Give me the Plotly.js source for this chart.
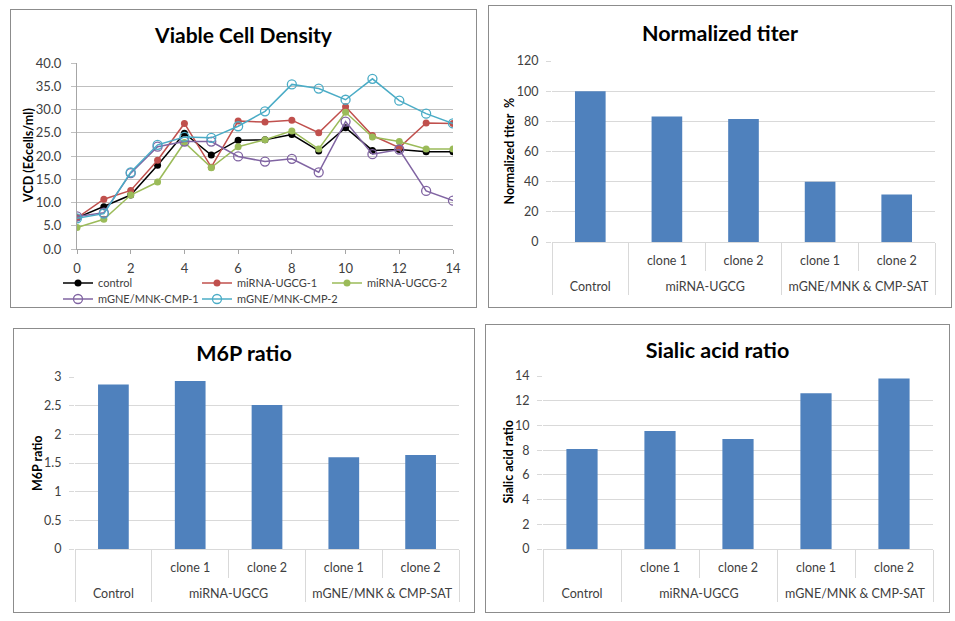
<!DOCTYPE html>
<html><head><meta charset="utf-8">
<script src="https://cdn.plot.ly/plotly-3.0.1.min.js"></script>
<style>
body{margin:0;background:#fff;width:955px;height:621px;position:relative;overflow:hidden;}
.panel{position:absolute;border:1px solid #8c8c8c;box-sizing:border-box;background:#fff;}
.panel > div{position:absolute;left:0;top:0;}
</style></head><body>
<div id="b1" class="panel"><div id="p1"></div></div>
<div id="b2" class="panel"><div id="p2"></div></div>
<div id="b3" class="panel"><div id="p3"></div></div>
<div id="b4" class="panel"><div id="p4"></div></div>
<script>
// ---------- data ----------
const days = [0,1,2,3,4,5,6,7,8,9,10,11,12,13,14];
const control    = [6.7, 9.1, 11.6, 18.0, 24.9, 20.2, 23.4, 23.5, 24.6, 21.1, 26.1, 21.2, 21.4, 20.9, 20.9];
const ugcg1      = [6.7, 10.7, 12.6, 19.1, 27.0, 17.6, 27.5, 27.3, 27.7, 25.0, 30.6, 24.4, 21.8, 27.1, 27.0];
const ugcg2      = [4.6, 6.4, 11.6, 14.4, 22.9, 17.5, 22.0, 23.5, 25.4, 21.5, 29.4, 24.1, 23.1, 21.5, 21.5];
const cmp1       = [7.0, 7.8, 16.3, 22.0, 23.1, 23.1, 19.9, 18.8, 19.4, 16.5, 27.4, 20.4, 21.4, 12.5, 10.4];
const cmp2       = [6.6, 7.6, 16.5, 22.4, 24.1, 23.9, 26.4, 29.6, 35.4, 34.5, 32.1, 36.6, 31.9, 29.1, 27.0];
const seriesNames = ["control","miRNA-UGCG-1","miRNA-UGCG-2","mGNE/MNK-CMP-1","mGNE/MNK-CMP-2"];

const groups = ["Control","miRNA-UGCG","miRNA-UGCG","mGNE/MNK & CMP-SAT","mGNE/MNK & CMP-SAT"];
const clones = ["","clone 1","clone 2","clone 1","clone 2"];
const titer  = [100, 83.2, 81.5, 40.0, 31.5];
const m6p    = [2.87, 2.93, 2.51, 1.60, 1.64];
const sialic = [8.1, 9.55, 8.9, 12.6, 13.8];

// ---------- styling ----------
const FONT = "Lato, 'Open Sans', sans-serif";
const TXT = "#404040";
const BAR = "#4F81BD";
const GRID = "#d9d9d9";
const NB = "\u00a0";

function setup(boxId, box, plot){
  const [L,T,R,B] = box;
  const el = document.getElementById(boxId);
  el.style.left = L+"px"; el.style.top = T+"px";
  el.style.width = (R-L)+"px"; el.style.height = (B-T)+"px";
  const W = R-L-2, H = B-T-2;
  const [x0,x1,y0,y1] = plot;
  return {W:W, H:H, l:x0-L-1, r:(R-1)-x1, t:y0-T-1, b:(B-1)-y1,
          px:(x)=> (x - x0)/(x1-x0), py:(y)=> 1-(y - y0)/(y1-y0),
          cy:(y)=> 1-(y-T-1)/H};
}

function ytitle(g, text, pageX){
  return {text:text, xref:'paper', yref:'paper', x:g.px(pageX), y:0.5, textangle:-90,
          showarrow:false, xanchor:'center', yanchor:'middle',
          font:{family:FONT, size:12.5, color:'#000', weight:'bold'}};
}

// ---------- Panel 1: line chart ----------
(function(){
  const g = setup('b1',[10,9,477,308],[77,453,63,249]);
  const vals = [control, ugcg1, ugcg2, cmp1, cmp2];
  const cols = ['#000000','#C0504D','#9BBB59','#8064A2','#4BACC6'];
  const open = [false,false,false,true,true];
  const legIds = ['legend','legend2','legend3','legend4','legend5'];
  const traces = vals.map((v,i)=>({
    x: days, y: v, name: seriesNames[i], type:'scatter', mode:'lines+markers',
    line:{color:cols[i], width:1.5},
    marker: open[i] ? {symbol:'circle-open', size:9, color:cols[i], line:{width:1.3, color:cols[i]}}
                    : {symbol:'circle', size:7, color:cols[i]},
    legend: legIds[i]
  }));
  const legCommon = {orientation:'h', xref:'paper', yref:'paper', xanchor:'left', yanchor:'middle',
     bgcolor:'rgba(0,0,0,0)', font:{family:FONT, size:11, color:TXT}, itemwidth:30};
  // legend entry anchor positions (page px): rows of the Excel legend
  const legPos = [[58,283],[197,283],[327,283],[58,299],[197,299]];
  const layout = {
    width:g.W, height:g.H, margin:{l:g.l, r:g.r, t:g.t, b:g.b, autoexpand:false},
    paper_bgcolor:'#fff', plot_bgcolor:'#fff', showlegend:true,
    font:{family:FONT, color:TXT},
    title:{text:'Viable Cell Density', x:0.5, xref:'container', xanchor:'center',
           y:g.cy(36), yref:'container', yanchor:'middle',
           font:{family:FONT, size:21, color:'#000', weight:'bold'}},
    xaxis:{range:[0,14], dtick:2, tick0:0, showgrid:false, zeroline:false, showline:true,
           linecolor:'#a6a6a6', ticks:'outside', ticklen:4, tickcolor:'#a6a6a6', ticklabelstandoff:3,
           tickfont:{family:FONT, size:13, color:TXT}},
    yaxis:{range:[0,40], dtick:5, tickformat:'.1f', showgrid:true, gridcolor:'#bfbfbf', zeroline:false,
           showline:true, linecolor:'#a6a6a6', ticks:'outside', ticklen:5, tickcolor:'#bfbfbf',
           ticklabelstandoff:7,
           tickfont:{family:FONT, size:13, color:TXT}},
    annotations:[ytitle(g,'VCD (E6cells/ml)',28)]
  };
  legIds.forEach((id,i)=>{
    layout[id] = Object.assign({x:g.px(legPos[i][0]), y:g.py(legPos[i][1])}, legCommon);
  });
  Plotly.newPlot('p1', traces, layout, {displayModeBar:false, staticPlot:true});
})();

// ---------- bar chart helper ----------
function barPanel(id, boxId, box, plot, values, title, titleY, yTitle, yTitleX, yrange, dtick){
  const g = setup(boxId, box, plot);
  // second (blank) line under each clone label pushes the group row down, as in Excel
  const subLabels = clones.map(c => (c || NB) + "<br>" + NB);
  const trace = {type:'bar', x:[groups, subLabels], y:values, marker:{color:BAR}, showlegend:false};
  const layout = {
    width:g.W, height:g.H, margin:{l:g.l, r:g.r, t:g.t, b:g.b, autoexpand:false},
    paper_bgcolor:'#fff', plot_bgcolor:'#fff', bargap:0.6,
    font:{family:FONT, color:TXT},
    title:{text:title, x:0.5, xref:'container', xanchor:'center',
           y:g.cy(titleY), yref:'container', yanchor:'middle',
           font:{family:FONT, size:21.5, color:'#000', weight:'bold'}},
    xaxis:{type:'multicategory', showgrid:false, zeroline:false, showline:true, linecolor:GRID,
           showdividers:true, dividercolor:GRID, dividerwidth:1,
           ticks:'outside', tickson:'boundaries', ticklen:28, tickcolor:GRID, ticklabelstandoff:7,
           tickfont:{family:FONT, size:12.5, color:TXT}},
    yaxis:{range:yrange, dtick:dtick, showgrid:true, gridcolor:GRID, zeroline:false, showline:false,
           ticks:'outside', ticklen:5, tickcolor:GRID, ticklabelstandoff:5,
           tickfont:{family:FONT, size:12.5, color:TXT}},
    annotations:[ytitle(g, yTitle, yTitleX)]
  };
  Plotly.newPlot(id, [trace], layout, {displayModeBar:false, staticPlot:true});
}

barPanel('p2','b2',[488,5,952,308],[552,935,61,242], titer, 'Normalized titer', 33,
         'Normalized titer  %', 509, [0,120], 20);
barPanel('p3','b3',[13,328,475,613],[75,459,377,549], m6p, 'M6P ratio', 353,
         'M6P ratio', 37, [0,3], 0.5);
barPanel('p4','b4',[485,324,950,613],[543,933,376,549], sialic, 'Sialic acid ratio', 350,
         'Sialic acid ratio', 508, [0,14], 2);
</script>
</body></html>
